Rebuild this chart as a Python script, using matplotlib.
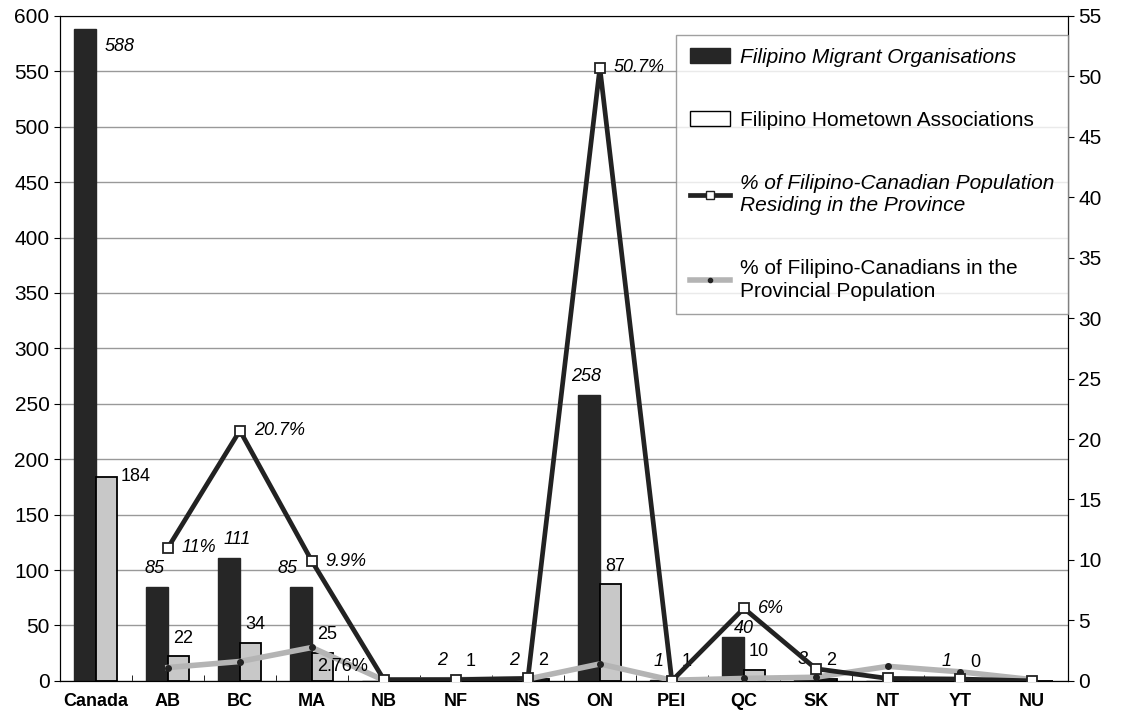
import matplotlib
matplotlib.use("Agg")
import matplotlib.pyplot as plt
from matplotlib.patches import Patch
from matplotlib.lines import Line2D
import numpy as np

categories = ["Canada", "AB", "BC", "MA", "NB", "NF", "NS", "ON", "PEI", "QC", "SK", "NT", "YT", "NU"]
migrant_orgs = [588, 85, 111, 85, 0, 2, 2, 258, 1, 40, 3, 0, 1, 0]
hometown_assoc = [184, 22, 34, 25, 0, 1, 2, 87, 1, 10, 2, 0, 0, 0]
pct_residing = [np.nan, 11, 20.7, 9.9, 0.1, 0.1, 0.2, 50.7, 0.0, 6, 1.0, 0.2, 0.15, 0.0]
pct_provincial = [np.nan, 1.1, 1.6, 2.76, 0.05, 0.1, 0.15, 1.4, 0.05, 0.2, 0.3, 1.2, 0.75, 0.1]

migrant_labels = ["588", "85", "111", "85", "", "2", "2", "258", "1", "40", "3", "", "1", ""]
hometown_labels = ["184", "22", "34", "25", "", "1", "2", "87", "1", "10", "2", "", "0", ""]
residing_labels = ["", "11%", "20.7%", "9.9%", "", "", "", "50.7%", "", "6%", "", "", "", ""]

plt.rcParams['font.family'] = ['Liberation Sans', 'DejaVu Sans']

fig = plt.figure(figsize=(11.3, 7.22), dpi=100)
ax = fig.add_axes([0.053, 0.057, 0.892, 0.921])
ax2 = ax.twinx()

x = np.arange(len(categories))
w = 0.3
dark = "#262626"
light = "#c8c8c8"

ax.bar(x - w/2, migrant_orgs, w, color=dark, edgecolor=dark, zorder=2)
ax.bar(x + w/2, hometown_assoc, w, color=light, edgecolor="black", linewidth=1.3, zorder=2)

ax.set_xlim(-0.5, len(categories) - 0.5)
ax.set_ylim(0, 600)
ax.set_yticks(np.arange(0, 601, 50))
ax.yaxis.grid(True, color="#999999", linewidth=1.0)
ax.set_axisbelow(True)
ax.set_xticks(x)
ax.set_xticklabels(categories, fontweight="bold", fontsize=13)
ax.set_xticks(np.arange(-0.5, len(categories), 1), minor=True)
ax.tick_params(axis="x", which="major", length=0, pad=9)
ax.tick_params(axis="x", which="minor", length=4, direction="in")
ax.tick_params(axis="y", labelsize=15, length=4, direction="out")
ax.spines["top"].set_color("#888888")

ax2.set_ylim(0, 55)
ax2.set_yticks(np.arange(0, 56, 5))
ax2.tick_params(axis="y", labelsize=15, length=4)

ax2.plot(x, pct_provincial, color="#b4b4b4", linewidth=4, marker="o", markersize=4,
         markerfacecolor="#222222", markeredgecolor="#222222", zorder=3)
ax2.plot(x, pct_residing, color="#222222", linewidth=3.4, marker="s", markersize=7,
         markerfacecolor="white", markeredgecolor="#222222", markeredgewidth=1.3, zorder=4)

fs = 13
# small placement nudges (points) for a few italic bar labels, as in the original
dark_dx = {2: 8, 3: -8, 9: 10}
dark_dy = {9: 0}
for i in range(len(categories)):
    if migrant_labels[i]:
        if i == 0:
            ax.annotate(migrant_labels[i], (x[i], migrant_orgs[i]), xytext=(6, -6),
                        textcoords="offset points", ha="left", va="top",
                        fontsize=fs, style="italic")
        else:
            ax.annotate(migrant_labels[i], (x[i] - w/2, migrant_orgs[i]),
                        xytext=(-2 + dark_dx.get(i, 0), dark_dy.get(i, 7)),
                        textcoords="offset points", ha="center", va="bottom",
                        fontsize=fs, style="italic", zorder=5)
    if hometown_labels[i]:
        if i == 0:
            ax.annotate(hometown_labels[i], (x[i] + w, hometown_assoc[i]), xytext=(2, 0),
                        textcoords="offset points", ha="left", va="center", fontsize=fs)
        else:
            ax.annotate(hometown_labels[i], (x[i] + w/2, hometown_assoc[i]), xytext=(3, 7),
                        textcoords="offset points", ha="center", va="bottom", fontsize=fs)
    if residing_labels[i]:
        ax2.annotate(residing_labels[i], (x[i], pct_residing[i]), xytext=(10, 0),
                     textcoords="offset points", ha="left", va="center",
                     fontsize=fs, style="italic")

ax2.annotate("2.76%", (x[3], pct_provincial[3]), xytext=(4, -14),
             textcoords="offset points", ha="left", va="center", fontsize=fs)

handles = [
    Patch(facecolor=dark, edgecolor=dark),
    Patch(facecolor="white", edgecolor="black"),
    Line2D([0], [0], color="#222222", linewidth=3.4, marker="s", markersize=6,
           markerfacecolor="white", markeredgecolor="#222222"),
    Line2D([0], [0], color="#b4b4b4", linewidth=4, marker="o", markersize=3,
           markerfacecolor="#222222", markeredgecolor="#222222"),
]
labels = ["Filipino Migrant Organisations", "Filipino Hometown Associations",
          "% of Filipino-Canadian Population\nResiding in the Province",
          "% of Filipino-Canadians in the\nProvincial Population"]
leg = ax2.legend(handles, labels, loc="upper right", bbox_to_anchor=(1.0, 0.972),
                 borderaxespad=0, fontsize=15, frameon=True, fancybox=False,
                 edgecolor="#888888", labelspacing=2.1, handlelength=1.9,
                 handletextpad=0.5, borderpad=0.65)
leg.get_frame().set_linewidth(1.0)
for i, t in enumerate(leg.get_texts()):
    t.set_linespacing(1.25)
    if i in (0, 2):
        t.set_style("italic")

fig.savefig("out.png", dpi=100)
